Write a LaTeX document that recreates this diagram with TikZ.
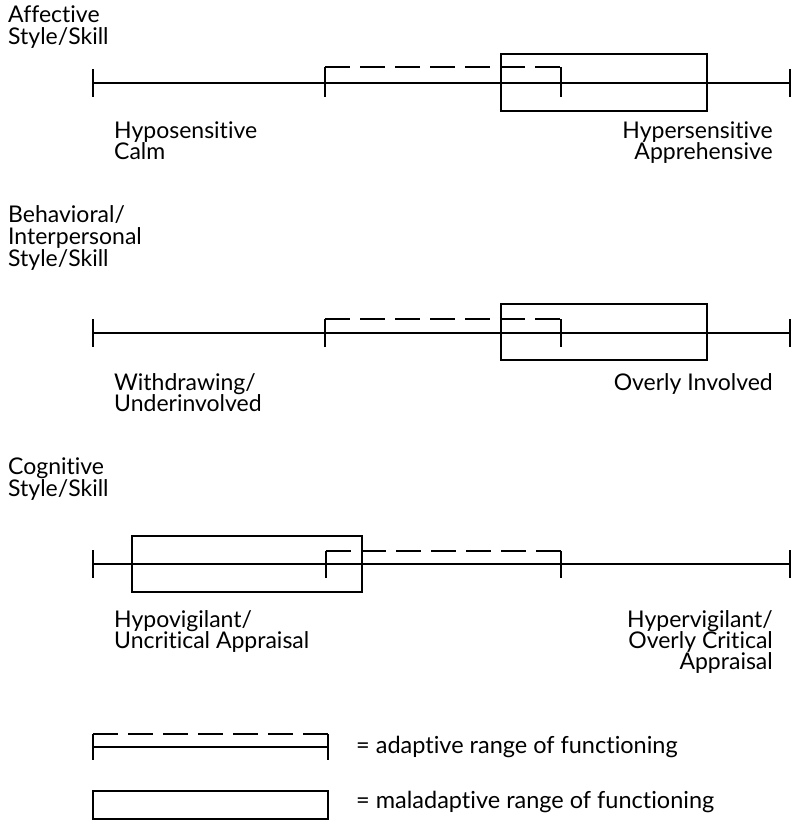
\documentclass[tikz,border=0pt]{standalone}
\usepackage{fontspec}
\setmainfont{Lato}[Ligatures={NoCommon,NoRare,NoContextual,NoRequired}]
\begin{document}
\begin{tikzpicture}[x=1pt,y=-1pt,
  axis/.style={line width=1.4pt},
  rangebox/.style={draw,line width=1.4pt},
  adaptive/.style={line width=1.4pt,dash pattern=on 25pt off 10pt},
  txt/.style={inner sep=0pt,font=\fontsize{23}{21}\selectfont},
  lefttxt/.style={txt,anchor=base west},
  righttxt/.style={txt,anchor=base east},
  keytxt/.style={lefttxt,font=\fontsize{23.5}{21}\selectfont},
]
\useasboundingbox (0,0) rectangle (791,821);

% ---------- Affective style/skill ----------
\node[lefttxt] (a1) at (8,23) {Affective};
\node[lefttxt] (a2) at (8,45) {Style/Skill};
\draw[axis] (93,69) -- (93,97);
\draw[axis] (93,83) -- (790,83);
\draw[axis] (790,69) -- (790,97);
\draw[axis] (325,97) -- (325,67);
\draw[adaptive] (325,67) -- (561,67);
\draw[axis] (561,67) -- (561,97);
\draw[rangebox] (501,54) rectangle (707,111);
\node[lefttxt] (a3) at (114,139) {Hyposensitive};
\node[lefttxt] (a4) at (114,160) {Calm};
\node[righttxt] (a5) at (773,139) {Hypersensitive};
\node[righttxt] (a6) at (773,160) {Apprehensive};

% ---------- Behavioral/interpersonal style/skill ----------
\node[lefttxt] (b1) at (8,222) {Behavioral/};
\node[lefttxt] (b2) at (8,244) {Interpersonal};
\node[lefttxt] (b3) at (8,266) {Style/Skill};
\draw[axis] (93,319) -- (93,347);
\draw[axis] (93,333) -- (790,333);
\draw[axis] (790,319) -- (790,347);
\draw[axis] (325,347) -- (325,319);
\draw[adaptive] (325,319) -- (561,319);
\draw[axis] (561,319) -- (561,347);
\draw[rangebox] (501,304) rectangle (707,360);
\node[lefttxt] (b4) at (114,390) {Withdrawing/};
\node[lefttxt] (b5) at (114,411) {Underinvolved};
\node[righttxt] (b6) at (773,390) {Overly Involved};

% ---------- Cognitive style/skill ----------
\node[lefttxt] (c1) at (8,474) {Cognitive};
\node[lefttxt] (c2) at (8,496) {Style/Skill};
\draw[axis] (93,550) -- (93,578);
\draw[axis] (93,564) -- (790,564);
\draw[axis] (790,550) -- (790,578);
\draw[axis] (326,578) -- (326,551);
\draw[adaptive] (326,551) -- (561,551);
\draw[axis] (561,551) -- (561,578);
\draw[rangebox] (132,536) rectangle (362,592);
\node[lefttxt] (c3) at (114,627) {Hypovigilant/};
\node[lefttxt] (c4) at (114,648) {Uncritical Appraisal};
\node[righttxt] (c5) at (773,627) {Hypervigilant/};
\node[righttxt] (c6) at (773,648) {Overly Critical};
\node[righttxt] (c7) at (773,669) {Appraisal};

% ---------- Key ----------
\draw[adaptive] (93,734) -- (328,734);
\draw[axis] (93,734) -- (93,760);
\draw[axis] (328,734) -- (328,760);
\draw[axis] (93,747) -- (328,747);
\node[keytxt] (k1) at (356,753) {= adaptive range of functioning};
\draw[rangebox] (93,791) rectangle (328,819);
\node[keytxt] (k2) at (356,808) {= maladaptive range of functioning};
\end{tikzpicture}
\end{document}
